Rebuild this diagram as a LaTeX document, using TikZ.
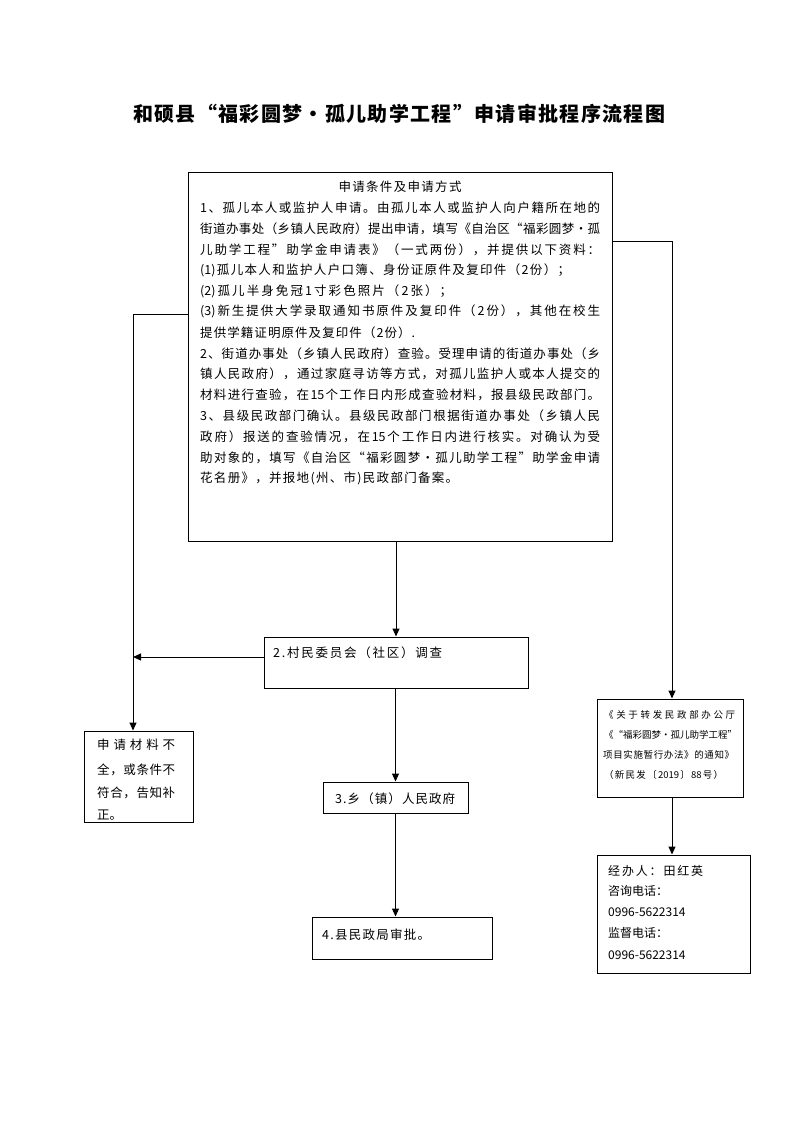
\documentclass[tikz,border=0pt]{standalone}
\usepackage{fontspec}
\newfontfamily\cjk{Noto Sans CJK SC}
\usetikzlibrary{arrows.meta}
\ExplSyntaxOn
\NewDocumentCommand\spr{m m}{\makebox[#1][s]{\tl_map_inline:nn{#2}{##1\hfil}\unskip}}
\ExplSyntaxOff
\begin{document}
\begin{tikzpicture}[x=1pt,y=-1pt,
  box/.style={draw, line width=1pt, inner sep=0pt},
  arr/.style={line width=1pt, -{Triangle[length=8pt,width=7pt]}},
  ln/.style={line width=1pt},
  t/.style={inner sep=0pt, anchor=west, font=\cjk\fontsize{12.5}{14}\selectfont},
  ts/.style={inner sep=0pt, anchor=west, font=\cjk\fontsize{9.5}{11}\selectfont},
  tm/.style={inner sep=0pt, anchor=west, font=\cjk\fontsize{12}{14}\selectfont}]
\useasboundingbox (0,0) rectangle (793,1122);
\fill[white] (0,0) rectangle (793,1122);

% title
\node[inner sep=0pt, font=\cjk\bfseries\fontsize{20}{24}\selectfont] (title) at (399,114)
  {\spr{532pt}{和硕县“福彩圆梦·孤儿助学工程”申请审批程序流程图}};

% boxes
\node[box, minimum width=424pt, minimum height=369pt] (big) at (400,356.5) {};
\node[box, minimum width=264pt, minimum height=51pt] (b2) at (396,662.5) {};
\node[box, minimum width=145pt, minimum height=31pt] (b3) at (395.5,797.5) {};
\node[box, minimum width=180pt, minimum height=42pt] (b4) at (402,938) {};
\node[box, minimum width=109pt, minimum height=91pt] (lb) at (138.5,776.5) {};
\node[box, minimum width=146pt, minimum height=98pt] (r1) at (670,748) {};
\node[box, minimum width=153pt, minimum height=118pt] (r2) at (673.5,914) {};

% big box text
\node[t, anchor=center] (l0) at (400,187) {\spr{123pt}{申请条件及申请方式}};
\node[t] (l1) at (200,207.8) {\spr{400pt}{1、孤儿本人或监护人申请。由孤儿本人或监护人向户籍所在地的}};
\node[t] (l2) at (200,228.6) {\spr{400pt}{街道办事处（乡镇人民政府）提出申请，填写《自治区“福彩圆梦·孤}};
\node[t] (l3) at (200,249.4) {\spr{400pt}{儿助学工程”助学金申请表》（一式两份），并提供以下资料：}};
\node[t] (l4) at (200,270.2) {\spr{370pt}{{(1)}孤儿本人和监护人户口簿、身份证原件及复印件（2份）；}};
\node[t] (l5) at (200,291) {\spr{252pt}{{(2)}孤儿半身免冠1寸彩色照片（2张）；}};
\node[t] (l6) at (200,311.8) {\spr{400pt}{{(3)}新生提供大学录取通知书原件及复印件（2份），其他在校生}};
\node[t] (l7) at (200,332.6) {\spr{215pt}{提供学籍证明原件及复印件（2份）.}};
\node[t] (l8) at (200,353.4) {\spr{400pt}{2、街道办事处（乡镇人民政府）查验。受理申请的街道办事处（乡}};
\node[t] (l9) at (200,374.2) {\spr{400pt}{镇人民政府），通过家庭寻访等方式，对孤儿监护人或本人提交的}};
\node[t] (l10) at (200,395) {\spr{400pt}{材料进行查验，在{15}个工作日内形成查验材料，报县级民政部门。}};
\node[t] (l11) at (200,415.8) {\spr{400pt}{3、县级民政部门确认。县级民政部门根据街道办事处（乡镇人民}};
\node[t] (l12) at (200,436.6) {\spr{400pt}{政府）报送的查验情况，在{15}个工作日内进行核实。对确认为受}};
\node[t] (l13) at (200,457.4) {\spr{400pt}{助对象的，填写《自治区“福彩圆梦·孤儿助学工程”助学金申请}};
\node[t] (l14) at (200,478.2) {\spr{258pt}{花名册》，并报地(州、市)民政部门备案。}};

% step boxes text
\node[t] (b2t) at (273,653) {\spr{169pt}{2.村民委员会（社区）调查}};
\node[t] (b3t) at (335,799) {\spr{120pt}{3.乡（镇）人民政府}};
\node[t] (b4t) at (322,935) {\spr{108pt}{4.县民政局审批。}};

% left box text
\node[t] (lb1) at (97,745) {\spr{78pt}{申请材料不}};
\node[t] (lb2) at (97,770) {\spr{78pt}{全，或条件不}};
\node[t] (lb3) at (97,793) {\spr{78pt}{符合，告知补}};
\node[t] (lb4) at (97,815) {正。};

% right box 1 text
\node[ts] (r11) at (604,715) {\spr{131pt}{《关于转发民政部办公厅}};
\node[ts] (r12) at (604,735) {\spr{129pt}{《“福彩圆梦·孤儿助学工程”}};
\node[ts] (r13) at (603,755) {\spr{131pt}{项目实施暂行办法》的通知》}};
\node[ts] (r14) at (604,775) {\spr{119pt}{（新民发〔{2019}〕{88}号）}};

% right box 2 text
\node[tm] (r21) at (608,871) {\spr{95pt}{经办人：田红英}};
\node[tm] (r22) at (608,891) {\spr{59pt}{咨询电话：}};
\node[tm] (r23) at (608,912) {0996-5622314};
\node[tm] (r24) at (608,933) {\spr{59pt}{监督电话：}};
\node[tm] (r25) at (608,955) {0996-5622314};

% connectors
\coordinate (lc) at (133,314);
\coordinate (lm) at (133,657);
\coordinate (rc) at (672,241);
\draw[arr] (b2.north |- big.south) -- (b2.north);
\draw[arr] (b3.north |- b2.south) -- (b3.north);
\draw[arr] (b3.south) -- (b3.south |- b4.north);
\draw[arr] (big.west |- lc) -- (lc) -- (lc |- lb.north);
\draw[arr] (b2.west |- lm) -- (lm);
\draw[arr] (big.east |- rc) -- (rc) -- (rc |- r1.north);
\draw[arr] (r1.south -| rc) -- (r2.north -| rc);
\end{tikzpicture}
\end{document}
